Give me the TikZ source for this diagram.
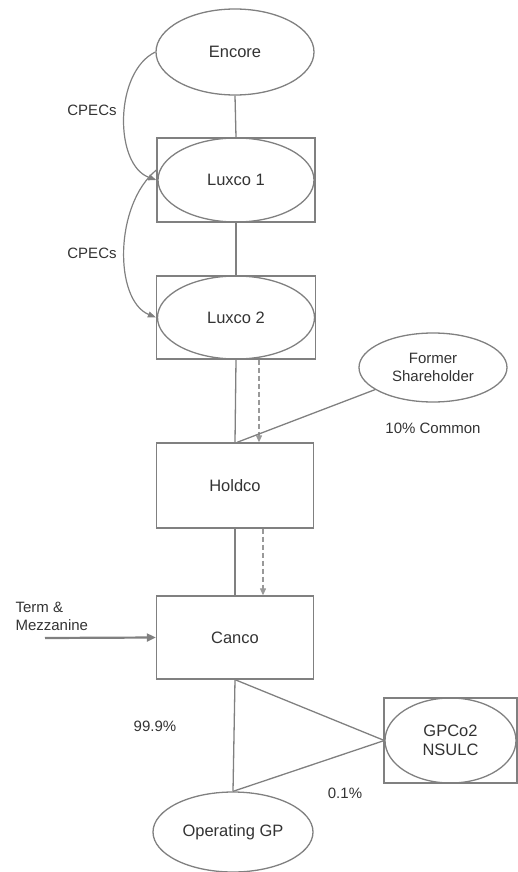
\documentclass[tikz,border=0pt]{standalone}
\usepackage{fontspec}
\setmainfont{Liberation Sans}
\usetikzlibrary{shapes.geometric,arrows.meta}
\definecolor{ln}{HTML}{808080}
\definecolor{tx}{HTML}{333333}
\begin{document}
\begin{tikzpicture}[x=1pt,y=-1pt,
  every node/.style={text=tx,font=\fontsize{16.5}{19}\selectfont},
  oval/.style={draw=ln,line width=1.3pt,ellipse,inner sep=0pt},
  box/.style={draw=ln,line width=1.3pt,rectangle,inner sep=0pt},
  conn/.style={draw=ln,line width=1.3pt},
  dasharrow/.style={draw=ln!80,line width=1.1pt,dash pattern=on 5pt off 3pt,-{Triangle[length=7pt,width=6pt]}},
  lab/.style={font=\fontsize{15}{18}\selectfont,align=left},
  curv/.style={draw=ln,line width=1.2pt,-{Triangle[length=8pt,width=6pt]}}]
\path[use as bounding box] (0,0) rectangle (517,872);
% nodes
\node[oval,minimum width=158pt,minimum height=86pt] (encore) at (235,52) {Encore};
\node[box,minimum width=158pt,minimum height=84pt] (lux1box) at (236,180) {};
\node[oval,minimum width=156pt,minimum height=84pt] (lux1) at (236,180) {Luxco 1};
\node[box,minimum width=159pt,minimum height=83pt] (lux2box) at (236,317.5) {};
\node[oval,minimum width=157pt,minimum height=83pt] (lux2) at (236,317.5) {Luxco 2};
\node[oval,minimum width=148pt,minimum height=69pt,align=center,font=\fontsize{15}{18}\selectfont] (former) at (433,367.5) {Former\\Shareholder};
\node[box,minimum width=157pt,minimum height=85pt] (holdco) at (235,485.5) {Holdco};
\node[box,minimum width=157pt,minimum height=83pt] (canco) at (235,637.5) {Canco};
\node[box,minimum width=133pt,minimum height=85pt] (gpbox) at (450.5,740.5) {};
\node[oval,minimum width=131pt,minimum height=85pt,align=center] (gp) at (450.5,740.5) {GPCo2\\NSULC};
\node[oval,minimum width=160pt,minimum height=80pt] (opgp) at (233,832) {Operating GP};
% labels
\node[lab] (cpec1) at (92,110) {CPECs};
\node[lab] (cpec2) at (92,253) {CPECs};
\node[lab] (common) at (433,428) {10\% Common};
\node[lab,anchor=west] (term) at (12,616) {Term \&\\Mezzanine};
\node[lab] (p999) at (155,726) {99.9\%};
\node[lab] (p01) at (345,793) {0.1\%};
\coordinate (tmstart) at (45,638);
% connectors
\draw[conn] (encore.south) -- (lux1box.north);
\draw[conn] (lux1box.south) -- (lux2box.north);
\draw[conn] (lux2box.south) -- (holdco.north);
\draw[conn] (holdco.south) -- (canco.north);
\draw[dasharrow] ([xshift=23pt]lux2box.south) -- ([xshift=24pt]holdco.north);
\draw[dasharrow] ([xshift=28pt]holdco.south) -- ([xshift=28pt]canco.north);
\draw[conn] (former) -- ([xshift=2pt]holdco.north);
\draw[draw=ln,line width=2.2pt,-{Triangle[length=9pt,width=8pt]}] (tmstart) -- (canco.west);
\draw[conn] (canco.south) -- (opgp.north);
\draw[conn] (canco.south) -- (gp.west);
\draw[conn] (gp.west) -- (opgp.north);
\draw[curv] (encore.west) .. controls (114,72) and (114,165) .. (lux1box.west);
\draw[curv] ([yshift=10pt]lux1box.west) .. controls (114,205) and (114,300) .. (lux2box.west);
\end{tikzpicture}
\end{document}
